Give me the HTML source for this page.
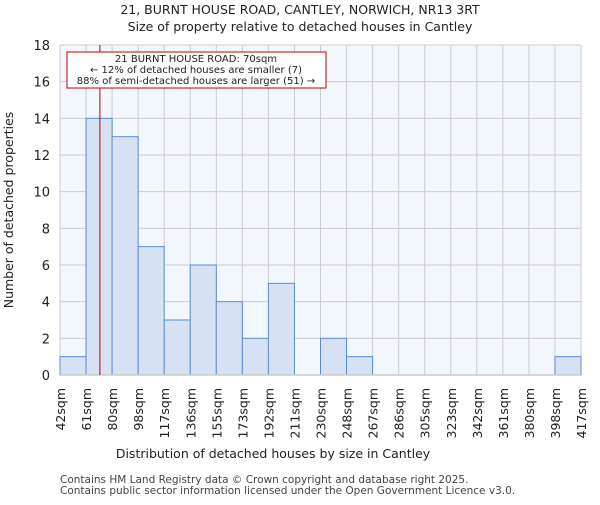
<!DOCTYPE html>
<html><head><meta charset="utf-8"><style>
body{margin:0;background:#fff;font-family:"Liberation Sans","DejaVu Sans",sans-serif}
svg text{font-family:"DejaVu Sans","Liberation Sans",sans-serif}
</style></head><body>
<svg id="c" width="600" height="500" xmlns="http://www.w3.org/2000/svg">
<text x="300" y="14" text-anchor="middle" font-size="12.5" fill="#222">21, BURNT HOUSE ROAD, CANTLEY, NORWICH, NR13 3RT</text>
<text x="300" y="31" text-anchor="middle" font-size="12.5" fill="#222">Size of property relative to detached houses in Cantley</text>
<g id="plot"></g>
<text x="273" y="458" text-anchor="middle" font-size="12.5" fill="#222">Distribution of detached houses by size in Cantley</text>
<text transform="translate(13,210) rotate(-90)" text-anchor="middle" font-size="12.5" fill="#222">Number of detached properties</text>
<text x="60" y="483" font-size="10.5" fill="#444">Contains HM Land Registry data © Crown copyright and database right 2025.</text>
<text x="60" y="494" font-size="10.5" fill="#444">Contains public sector information licensed under the Open Government Licence v3.0.</text>
</svg>
<script>
const binLabels=["42sqm","61sqm","80sqm","98sqm","117sqm","136sqm","155sqm","173sqm","192sqm","211sqm","230sqm","248sqm","267sqm","286sqm","305sqm","323sqm","342sqm","361sqm","380sqm","398sqm","417sqm"];
const binEdges=[42,61,80,98,117,136,155,173,192,211,230,248,267,286,305,323,342,361,380,398,417];
const counts=[1,14,13,7,3,6,4,2,5,0,2,1,0,0,0,0,0,0,0,1];
const yTicks=[0,2,4,6,8,10,12,14,16,18];
const propertySize=70;
const L=60,R=581,T=45,B=375,yMax=18;
const n=counts.length;
const xi=i=>L+(R-L)*i/n;
function xv(v){let i=0;while(i<n-1&&v>binEdges[i+1])i++;return xi(i)+(v-binEdges[i])/(binEdges[i+1]-binEdges[i])*(R-L)/n;}
const y=v=>B-(B-T)*v/yMax;
const NS="http://www.w3.org/2000/svg";
const g=document.getElementById('plot');
function mk(t,a){const e=document.createElementNS(NS,t);for(const k in a)e.setAttribute(k,a[k]);g.appendChild(e);return e;}
const bg=mk('rect',{x:L,y:T,width:R-L,height:B-T,fill:'#f2f6fd'});


yTicks.forEach(t=>{
 const gl=mk('line',{x1:L,x2:R,y1:y(t),y2:y(t),stroke:'#ccc','stroke-width':1});
 
 
 const tx=mk('text',{x:50,y:y(t)+5,'text-anchor':'end','font-size':13,fill:'#222'});tx.textContent=t;
 
 
});
for(let i=0;i<=n;i++){
 const gl=mk('line',{x1:xi(i),x2:xi(i),y1:T,y2:B,stroke:'#ccc','stroke-width':1});
 
 
}
counts.forEach((c,i)=>{
 if(c<=0)return;
 const r=mk('rect',{x:xi(i),y:y(c),width:xi(i+1)-xi(i),height:B-y(c),fill:'#d6e1f3',stroke:'#5b8dd6','stroke-width':1});
 
 
});
binLabels.forEach((s,i)=>{
 const xx=xi(i);
 const t=mk('text',{transform:`translate(${xx+5},388) rotate(-90)`,'text-anchor':'end','font-size':12.5,fill:'#222'});t.textContent=s;
 
 
});
const ax=mk('line',{x1:L,x2:R,y1:B,y2:B,stroke:'#ccc','stroke-width':1.5});


const px=xv(propertySize)+1.5;
const ml=mk('line',{x1:px,x2:px,y1:T,y2:B,stroke:'#b00','stroke-width':1});


const ab=mk('rect',{x:67,y:52,width:259,height:36,fill:'#fff',stroke:'#c00','stroke-width':1});


["21 BURNT HOUSE ROAD: 70sqm","← 12% of detached houses are smaller (7)","88% of semi-detached houses are larger (51) →"].forEach((s,i)=>{
 const t=mk('text',{x:196,y:62+i*11,'text-anchor':'middle','font-size':10,fill:'#222'});t.textContent=s;
 
 
});
</script>
</body></html>
